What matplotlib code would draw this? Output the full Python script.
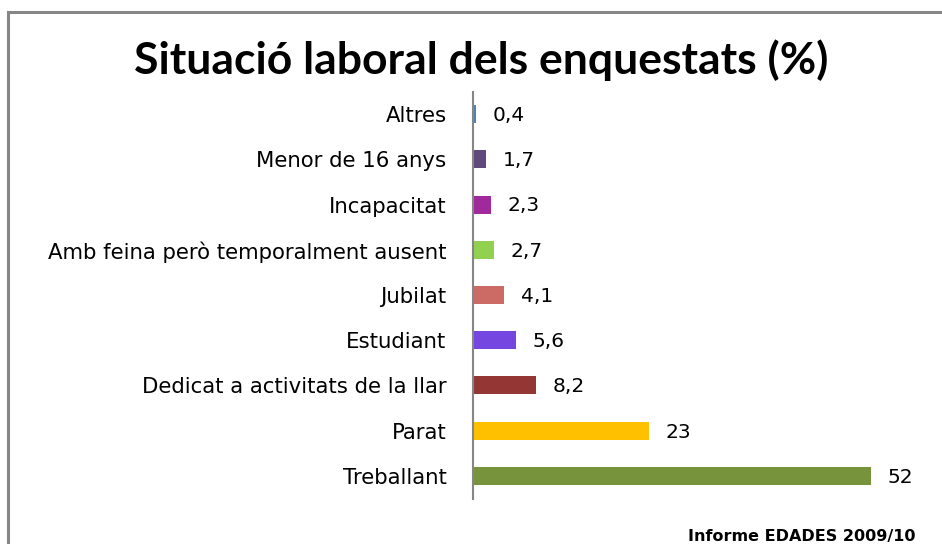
import matplotlib.pyplot as plt
from matplotlib.patches import Rectangle

# dades
categories = ['Treballant', 'Parat', 'Dedicat a activitats de la llar', 'Estudiant',
              'Jubilat', 'Amb feina però temporalment ausent', 'Incapacitat',
              'Menor de 16 anys', 'Altres']
values = [52, 23, 8.2, 5.6, 4.1, 2.7, 2.3, 1.7, 0.4]
value_labels = ['52', '23', '8,2', '5,6', '4,1', '2,7', '2,3', '1,7', '0,4']
colors = ['#77933C', '#FFC000', '#943634', '#7647E0', '#CC6A66',
          '#92D050', '#A02A9C', '#604A7B', '#4F81BD']

W, H = 942, 544
fig = plt.figure(figsize=(W / 100, H / 100), dpi=100)

# marc gris
fig.patches.append(Rectangle((8 / W, -0.2), 1.2, 1.2 - 12 / H,
                             transform=fig.transFigure, fill=False,
                             edgecolor='#868686', linewidth=2.2))

ax = fig.add_axes([473 / W, 1 - 498.5 / H, 460 / W, 407 / H])
y = range(len(categories))
ax.barh(y, values, height=0.4, color=colors)
ax.set_ylim(-0.5, len(categories) - 0.5)
ax.set_xlim(0, 460 / 7.65)

for yi, v, lab in zip(y, values, value_labels):
    ax.annotate(lab, (v, yi), xytext=(12, -1), textcoords='offset points',
                va='center', ha='left', fontsize=14.5, family='DejaVu Sans')

ax.set_yticks(list(y))
ax.set_yticklabels(categories, fontsize=15.3)
ax.tick_params(axis='y', length=0, pad=19)
ax.set_xticks([])
for s in ['top', 'right', 'bottom']:
    ax.spines[s].set_visible(False)
ax.spines['left'].set_color('#868686')
ax.spines['left'].set_linewidth(1.5)

fig.text(481 / W, 1 - 60 / H, 'Situació laboral dels enquestats (%)',
         ha='center', va='center', fontsize=32, fontweight='bold', family='Lato')
fig.text(916 / W, 1 - 541 / H, 'Informe EDADES 2009/10',
         ha='right', va='baseline', fontsize=11.5, fontweight='bold', family='DejaVu Sans')

fig.savefig('out.png', dpi=100)
